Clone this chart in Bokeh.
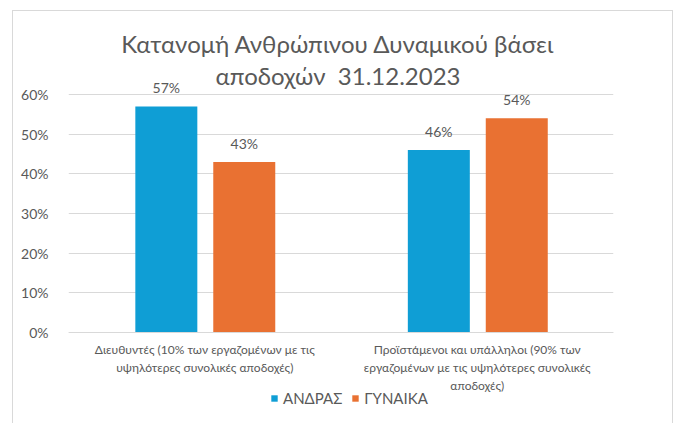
from bokeh.plotting import figure
from bokeh.models import (ColumnDataSource, FactorRange, NumeralTickFormatter, Legend,
                          LegendItem, LabelSet, Label, FixedTicker, InlineStyleSheet)
from bokeh.core.properties import value
from bokeh.transform import dodge
from bokeh.embed import file_html
from bokeh.resources import INLINE

# ---- data ----
categories = [
    "Διευθυντές (10% των εργαζομένων με τις\nυψηλότερες συνολικές αποδοχές)",
    "Προϊστάμενοι και υπάλληλοι (90% των\nεργαζομένων με τις υψηλότερες συνολικές\nαποδοχές)",
]
men = [0.57, 0.46]
women = [0.43, 0.54]
series_names = ["ΑΝΔΡΑΣ", "ΓΥΝΑΙΚΑ"]
y_ticks = [0.0, 0.1, 0.2, 0.3, 0.4, 0.5, 0.6]
title_line1 = "Κατανομή Ανθρώπινου Δυναμικού βάσει"
title_line2 = "αποδοχών\u00a0 31.12.2023"

BLUE = "#0F9ED5"
ORANGE = "#E97132"
GRAY = "#595959"
GRID = "#D9D9D9"
FONT = "Lato"

# layout (pixels): the frame covers the whole chart box; the 0-60% scale
# occupies 238 px, with 80 px above it (title) and 88 px below (labels, legend)
SCALE_H = 238
ABOVE_H = 80
BELOW_H = 88
px_per_unit = SCALE_H / y_ticks[-1]
y_top = y_ticks[-1] + ABOVE_H / px_per_unit
y_bottom = -BELOW_H / px_per_unit

source = ColumnDataSource(dict(
    cat=categories,
    men=men,
    women=women,
    men_lbl=[f"{round(v*100)}%" for v in men],
    women_lbl=[f"{round(v*100)}%" for v in women],
))

p = figure(x_range=FactorRange(*categories), y_range=(y_bottom, y_top),
           frame_width=545, frame_height=SCALE_H + ABOVE_H + BELOW_H, output_backend="svg",
           toolbar_location=None, title_location=None,
           min_border_left=68, min_border_right=68, min_border_top=14, min_border_bottom=3)

r1 = p.vbar(x=dodge("cat", -0.141, range=p.x_range), top="men", width=0.2275,
            source=source, fill_color=BLUE, line_color=None)
r2 = p.vbar(x=dodge("cat", 0.145, range=p.x_range), top="women", width=0.2275,
            source=source, fill_color=ORANGE, line_color=None)

for xoff, col, lbl in [(-0.141, "men", "men_lbl"), (0.145, "women", "women_lbl")]:
    ls = LabelSet(x=dodge("cat", xoff, range=p.x_range), y=col, text=lbl, source=source,
                  text_align="center", text_baseline="alphabetic", y_offset=13,
                  text_font=value(FONT), text_font_size="14px", text_color=GRAY)
    p.add_layout(ls)

# two-line title, centred over the plot area
for txt, off in [(title_line1, 51), (title_line2, 19)]:
    p.add_layout(Label(x=len(categories) / 2, y=y_ticks[-1], text=txt, x_offset=-3, y_offset=off,
                       text_align="center", text_baseline="alphabetic",
                       text_font=FONT, text_font_size="24px", text_color=GRAY))

p.yaxis.ticker = FixedTicker(ticks=y_ticks)
p.yaxis.formatter = NumeralTickFormatter(format="0%")
p.yaxis.axis_line_color = None
p.yaxis.major_tick_line_color = None
p.yaxis.minor_tick_line_color = None
p.yaxis.major_label_text_font = FONT
p.yaxis.major_label_text_font_size = "14px"
p.yaxis.major_label_text_color = GRAY
p.yaxis.major_label_standoff = 14

p.xaxis.fixed_location = 0
p.xaxis.axis_line_color = GRID
p.xaxis.major_tick_line_color = None
p.xaxis.minor_tick_line_color = None
p.xaxis.major_label_text_font = FONT
p.xaxis.major_label_text_font_size = "12px"
p.xaxis.major_label_text_color = GRAY
p.xaxis.major_label_standoff = 3
p.xaxis.major_label_orientation = "horizontal"

p.xgrid.grid_line_color = None
p.ygrid.grid_line_color = GRID
p.outline_line_color = None

legend = Legend(items=[LegendItem(label=series_names[0], renderers=[r1]),
                       LegendItem(label=series_names[1], renderers=[r2])],
                orientation="horizontal", location=(202, 13),
                glyph_width=8, glyph_height=8, label_text_font=FONT,
                label_text_font_size="15px", label_text_color=GRAY,
                border_line_color=None, background_fill_alpha=0,
                spacing=9, padding=0, margin=0, label_standoff=5)
p.add_layout(legend)

p.stylesheets = [InlineStyleSheet(css="""
:host { position: relative; }
:host::after { content: ""; position: absolute; left: 12px; top: 10px; right: 8px; bottom: 0px;
  border: 1px solid #D9D9D9; border-bottom: none; pointer-events: none; z-index: 100; }
""")]

open("out.html", "w").write(file_html(p, INLINE))
